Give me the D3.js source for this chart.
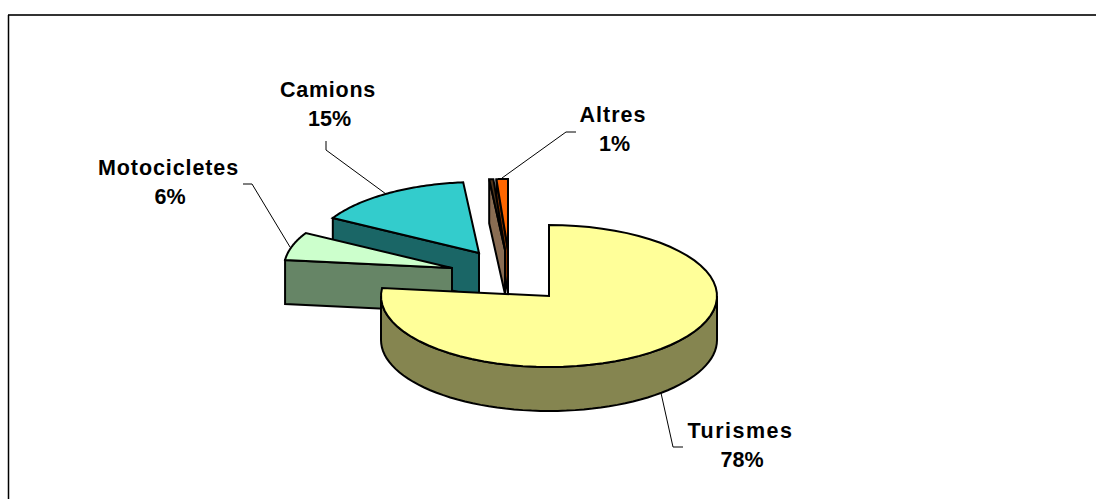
<!DOCTYPE html>
<html><head><meta charset="utf-8">
<script src="https://cdn.jsdelivr.net/npm/d3@7"></script>
<style>html,body{margin:0;padding:0;background:#fff}svg{display:block}
text{font-family:"Liberation Sans",Arial,sans-serif;font-weight:700;fill:#000;font-size:21.5px}</style>
</head><body><svg id="c" width="1096" height="499"></svg>
<script>
const categories = ["Turismes","Motocicletes","Camions","","Altres"];
const values = [76.8,6.4,15.3,0.4,1.1];
const percentLabels = ["78%","6%","15%","","1%"];
const topColors = ["#ffff99","#ccffcc","#33cccc","#4d3319","#ff6600"];
const sideColors = ["#858550","#668566","#1a6666","#8a6d53","#803300"];
const explodeX = [0,-97,-70,-44,-41];
const explodeY = [0,-28,-43,-46,-46];
const drawOrder = [2,1,4,3,0];
const labelX = [740.5,168.5,328,0,613];
const labelY = [431,168,90,0,115];
const labelSpacing = [1.5,0.9,0.75,0,1.0];
const leaders = [
  [[683,447],[673,447],[661,393]],
  [[243,184],[252,184],[290,247]],
  [[326,141],[326,150],[386,194]],
  [],
  [[576,132],[566,132],[502,178]]
];
const cx=549, cy=296, rx=168, ry=71, depth=44;
const svg=d3.select("#c");
const arcs=d3.pie().sort(null).value(d=>d)(values);
const line=d3.line();
const pt=(i,a,dy=0)=>[cx+explodeX[i]+rx*Math.sin(a), cy+explodeY[i]+dy-ry*Math.cos(a)];
const apex=(i,dy=0)=>[cx+explodeX[i], cy+explodeY[i]+dy];
const rim=(i,a0,a1)=>d3.range(0,61).map(k=>pt(i,a0+(a1-a0)*k/60));
const style=(s,f,w=2)=>s.attr("fill",f).attr("stroke","#000").attr("stroke-width",w).attr("stroke-linejoin","miter");

// frame
svg.append("line").attr("x1",8).attr("x2",1096).attr("y1",15).attr("y2",15).attr("stroke","#333").attr("stroke-width",2);
svg.append("line").attr("x1",8.5).attr("x2",8.5).attr("y1",15).attr("y2",499).attr("stroke","#000").attr("stroke-width",1.5);

drawOrder.forEach(i=>{
  const a=arcs[i];
  if(i===0){
    const lo=Math.PI/2, hi=3*Math.PI/2;
    const bottom=rim(i,lo,hi);
    const d=bottom.concat(bottom.slice().reverse().map(p=>[p[0],p[1]+depth]));
    style(svg.append("path").attr("d",line(d)+"Z"),sideColors[i]);
  } else {
    if(i===4){
      const e=pt(i,a.endAngle);
      style(svg.append("path").attr("d",line([e,apex(i),apex(i,depth),[e[0],e[1]+depth]])+"Z"),sideColors[i]);
    }
    const s=pt(i,a.startAngle);
    const d=[s,apex(i),apex(i,depth),pt(i,a.startAngle,depth)];
    style(svg.append("path").attr("d",line(d)+"Z"),sideColors[i]);
  }
  const top=[apex(i)].concat(rim(i,a.startAngle,a.endAngle));
  style(svg.append("path").attr("d",line(top)+"Z"),topColors[i]);
});

// leaders + labels
categories.forEach((c,i)=>{
  if(!c) return;
  svg.append("path").attr("d",line(leaders[i])).attr("fill","none").attr("stroke","#000").attr("stroke-width",1);
  svg.append("text").attr("x",labelX[i]).attr("y",labelY[i]+7).attr("text-anchor","middle")
    .style("letter-spacing",labelSpacing[i]+"px").text(c);
  svg.append("text").attr("x",labelX[i]+1.5).attr("y",labelY[i]+36).attr("text-anchor","middle").text(percentLabels[i]);
});
</script></body></html>
